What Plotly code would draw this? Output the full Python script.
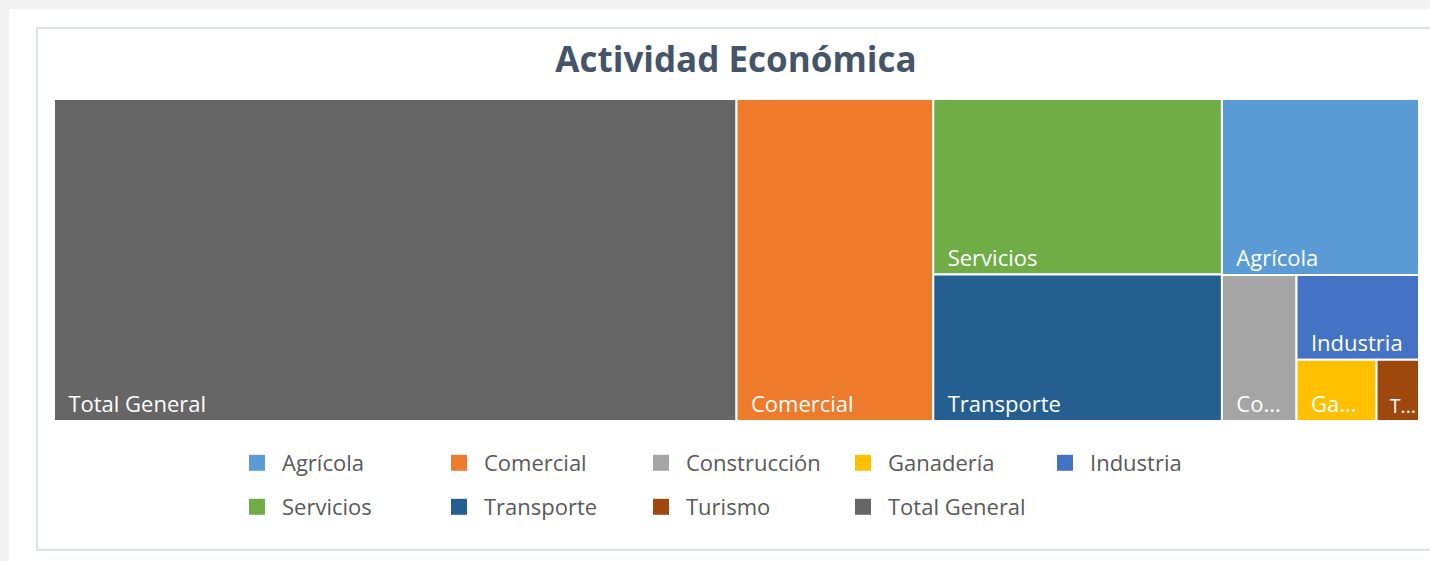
import plotly.graph_objects as go

# ---- data ----
categories = ["Total General", "Comercial", "Servicios", "Transporte", "Agrícola",
              "Construcción", "Industria", "Ganadería", "Turismo"]
values = [219.9, 63.4, 50.7, 42.3, 34.7, 10.9, 10.4, 4.9, 2.6]
shown_text = ["Total General", "Comercial", "Servicios", "Transporte", "Agrícola",
              "Co...", "Industria", "Ga...", "T..."]
colors = {
    "Agrícola": "#5B9BD5",
    "Comercial": "#EE7A2C",
    "Construcción": "#A5A5A5",
    "Ganadería": "#FFC000",
    "Industria": "#4472C4",
    "Servicios": "#70AD47",
    "Transporte": "#255E91",
    "Turismo": "#9E480E",
    "Total General": "#666666",
}
legend_row1 = ["Agrícola", "Comercial", "Construcción", "Ganadería", "Industria"]
legend_row2 = ["Servicios", "Transporte", "Turismo", "Total General"]

W, H = 1430, 561

def px_x(v):
    return v / W

def px_y(v):
    return 1 - v / H

NB = "\u00a0"
tile_text = [NB * 2 + t for t in shown_text]

fig = go.Figure()

fig.add_trace(go.Treemap(
    labels=categories,
    parents=[""] * len(categories),
    values=values,
    text=tile_text,
    texttemplate="%{text}",
    textposition="bottom left",
    textfont=dict(family="Open Sans", size=22, color="white"),
    marker=dict(colors=[colors[c] for c in categories],
                line=dict(color="white", width=2),
                pad=dict(t=0, l=0, r=0, b=0)),
    tiling=dict(packing="squarify", squarifyratio=1, pad=0),
    pathbar=dict(visible=False),
    sort=True,
    branchvalues="remainder",
    domain=dict(x=[px_x(54), px_x(1419)], y=[px_y(421), px_y(99)]),
    hoverinfo="label+value",
))

for name in legend_row1:
    fig.add_trace(go.Scatter(x=[None], y=[None], mode="markers", name=name,
                             marker=dict(symbol="square", size=18, color=colors[name]),
                             legend="legend", showlegend=True, hoverinfo="skip"))
for name in legend_row2:
    fig.add_trace(go.Scatter(x=[None], y=[None], mode="markers", name=name,
                             marker=dict(symbol="square", size=18, color=colors[name]),
                             legend="legend2", showlegend=True, hoverinfo="skip"))

legend_common = dict(orientation="h", xanchor="left", yanchor="middle",
                     entrywidth=147, entrywidthmode="pixels",
                     font=dict(family="Open Sans", size=22, color="#595959"),
                     bgcolor="rgba(0,0,0,0)", borderwidth=0, itemwidth=40)

fig.update_layout(
    width=W, height=H,
    margin=dict(l=0, r=0, t=0, b=0),
    paper_bgcolor="#F2F2F2",
    plot_bgcolor="rgba(0,0,0,0)",
    xaxis=dict(visible=False),
    yaxis=dict(visible=False),
    title=dict(text="Actividad Económica", x=px_x(736), y=px_y(60),
               xanchor="center", yanchor="middle", xref="paper", yref="paper",
               font=dict(family="Open Sans", size=35, color="#44546A", weight="bold")),
    legend=dict(x=px_x(232), y=px_y(463), **legend_common),
    legend2=dict(x=px_x(232), y=px_y(507), **legend_common),
    shapes=[
        dict(type="rect", xref="paper", yref="paper", x0=px_x(9), x1=1.02,
             y0=-0.02, y1=px_y(9), fillcolor="white", line=dict(width=0), layer="below"),
        dict(type="rect", xref="paper", yref="paper", x0=px_x(37), x1=1.02,
             y0=px_y(550), y1=px_y(28), fillcolor="white",
             line=dict(color="#DCE1E9", width=2), layer="below"),
    ],
)

fig.write_html("out.html",
               config={"displayModeBar": False},
               post_script="document.body.style.margin='0px';document.body.style.background='#F2F2F2';")
